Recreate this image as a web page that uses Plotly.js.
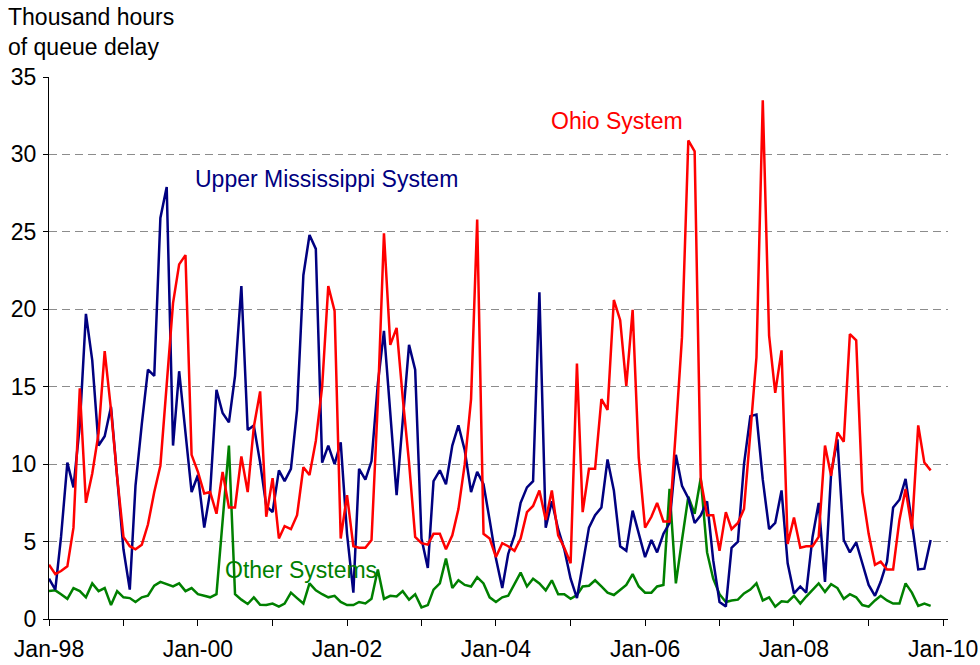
<!DOCTYPE html>
<html>
<head>
<meta charset="utf-8">
<script src="https://cdn.plot.ly/plotly-3.0.1.min.js"></script>
<style>
html,body{margin:0;padding:0;background:#fff;}
#chart{width:980px;height:665px;}
</style>
</head>
<body>
<div id="chart"></div>
<script>
// Monthly series, Jan-1998 .. Nov-2009 (thousand hours of queue delay)
const startYear = 1998;
const nMonths = 143;

const upperMississippi = [
  2.6, 1.9, 5.3, 10.1, 8.5, 12.5, 19.7, 16.7, 11.2, 11.8, 13.7, 9.0,
  4.5, 1.9, 8.6, 12.6, 16.1, 15.7, 25.9, 27.9, 11.2, 16.0, 12.0, 8.2,
  9.3, 5.9, 8.2, 14.8, 13.3, 12.7, 15.7, 21.5, 12.2, 12.5, 10.1, 7.3,
  6.9, 9.6, 8.9, 9.7, 13.5, 22.2, 24.8, 23.9, 10.1, 11.2, 10.0, 11.4,
  5.5, 1.7, 9.7, 9.0, 10.2, 15.2, 18.6, 13.0, 8.0, 12.8, 17.7, 16.1,
  5.2, 3.3, 8.9, 9.6, 8.7, 11.2, 12.5, 10.9, 8.2, 9.5, 8.7, 6.4,
  3.9, 2.0, 4.2, 5.4, 7.5, 8.5, 8.9, 21.1, 5.9, 7.6, 5.8, 4.5,
  2.6, 1.35, 3.4, 5.9, 6.7, 7.2, 10.3, 8.3, 4.7, 4.4, 7.0, 5.5,
  4.0, 5.1, 4.3, 5.5, 6.2, 10.6, 8.6, 7.8, 6.2, 6.7, 7.6, 3.8,
  1.1, 0.8, 4.6, 5.0, 10.0, 13.1, 13.2, 9.0, 5.8, 6.2, 8.3, 3.6,
  1.65, 2.1, 1.7, 5.3, 7.5, 2.4, 9.4, 11.6, 5.1, 4.3, 4.95, 3.6,
  2.2, 1.5, 2.4, 3.7, 7.2, 7.7, 9.05, 6.2, 3.2, 3.25, 5.1
];

const ohio = [
  3.5, 2.9, 3.1, 3.4, 5.9, 14.9, 7.5, 9.4, 12.0, 17.3, 13.5, 9.2,
  5.3, 4.7, 4.5, 4.8, 6.1, 8.2, 9.9, 15.2, 20.4, 22.9, 23.5, 10.6,
  9.5, 8.1, 8.2, 6.8, 9.5, 7.2, 7.2, 10.5, 8.2, 12.4, 14.7, 6.6,
  9.1, 5.2, 6.0, 5.8, 6.7, 9.8, 9.3, 11.5, 15.0, 21.5, 19.9, 5.2,
  8.0, 4.7, 4.6, 4.6, 5.1, 14.0, 24.9, 17.7, 18.8, 14.3, 10.1, 5.3,
  4.9, 4.8, 5.5, 5.5, 4.5, 5.4, 7.1, 10.0, 14.2, 25.8, 5.5, 5.2,
  4.0, 4.9, 4.7, 4.4, 5.2, 6.9, 7.3, 8.3, 6.4, 8.3, 5.4, 4.6,
  3.6, 16.5, 6.9, 9.7, 9.7, 14.2, 13.5, 20.6, 19.3, 15.05, 19.96, 10.4,
  5.9, 6.6, 7.5, 6.3, 6.3, 12.2, 18.2, 30.9, 30.2, 9.0, 6.7, 6.7,
  4.4, 6.9, 5.8, 6.2, 7.1, 12.0, 16.9, 33.5, 18.3, 14.6, 17.35, 4.85,
  6.55, 4.6, 4.7, 4.7, 5.3, 11.2, 9.25, 12.05, 11.45, 18.4, 18.0, 8.2,
  5.5, 3.5, 3.7, 3.2, 3.2, 6.4, 8.4, 5.8, 12.5, 10.1, 9.6
];

const otherSystems = [
  1.8, 1.85, 1.6, 1.3, 2.0, 1.8, 1.4, 2.3, 1.8, 2.0, 0.9, 1.8,
  1.4, 1.35, 1.1, 1.4, 1.5, 2.15, 2.4, 2.25, 2.1, 2.3, 1.8, 2.0,
  1.6, 1.5, 1.4, 1.6, 6.4, 11.2, 1.6, 1.25, 0.97, 1.4, 0.92, 0.9,
  1.0, 0.8, 1.0, 1.7, 1.35, 1.0, 2.3, 1.85, 1.6, 1.4, 1.5, 1.1,
  0.9, 0.9, 1.1, 1.0, 1.3, 3.2, 1.3, 1.5, 1.45, 1.8, 1.25, 1.6,
  0.75, 0.9, 1.9, 2.3, 3.9, 2.0, 2.5, 2.2, 2.1, 2.7, 2.3, 1.4,
  1.1, 1.4, 1.5, 2.3, 3.0, 2.1, 2.6, 2.3, 1.85, 2.5, 1.6, 1.6,
  1.3, 1.55, 2.1, 2.15, 2.5, 2.1, 1.7, 1.55, 1.85, 2.2, 2.9, 2.1,
  1.7, 1.7, 2.1, 2.2, 8.4, 2.3, 5.1, 7.9, 6.8, 9.1, 4.3, 2.6,
  1.6, 1.1, 1.2, 1.25, 1.65, 1.9, 2.3, 1.2, 1.4, 0.8, 1.15, 1.1,
  1.5, 1.0, 1.45, 1.9, 2.3, 1.75, 2.25, 2.0, 1.3, 1.6, 1.4, 0.9,
  0.8, 1.2, 1.5, 1.2, 1.0, 1.0, 2.3, 1.7, 0.85, 1.0, 0.85
];

const tickYears = [1998,1999,2000,2001,2002,2003,2004,2005,2006,2007,2008,2009,2010];
const tickLabels = ['Jan-98','','Jan-00','','Jan-02','','Jan-04','','Jan-06','','Jan-08','','Jan-10'];
const yTicks = [0,5,10,15,20,25,30,35];

// month dates (categories of the time axis)
const months = [];
for (let i = 0; i < nMonths; i++) {
  const y = startYear + Math.floor(i / 12);
  const m = (i % 12) + 1;
  months.push(y + '-' + (m < 10 ? '0' + m : m) + '-01');
}

const FONT = 'Arial, "Liberation Sans", sans-serif';
const FS = 23;
const W = 980, H = 665;
const M = {l: 49, r: 32, t: 77, b: 46};
function px2paperX(px){ return (px - M.l) / (W - M.l - M.r); }
function px2paperY(py){ return (H - M.b - py) / (H - M.t - M.b); }

const traces = [
  {x: months, y: otherSystems, type: 'scatter', mode: 'lines', name: 'Other Systems',
   line: {color: '#008000', width: 2.5}},
  {x: months, y: upperMississippi, type: 'scatter', mode: 'lines', name: 'Upper Mississippi System',
   line: {color: '#000080', width: 2.5}},
  {x: months, y: ohio, type: 'scatter', mode: 'lines', name: 'Ohio System',
   line: {color: '#FF0000', width: 2.5}}
];

const layout = {
  width: W, height: H,
  margin: M,
  paper_bgcolor: '#ffffff',
  plot_bgcolor: '#ffffff',
  showlegend: false,
  font: {family: FONT, size: FS, color: '#000'},
  xaxis: {
    type: 'date',
    range: ['1998-01-01', '2010-01-25'],
    tickmode: 'array',
    tickvals: tickYears.map(y => y + '-01-01'),
    ticktext: tickLabels,
    showgrid: false,
    zeroline: false,
    showline: true, linecolor: '#000', linewidth: 1,
    ticks: 'outside', ticklen: 6, tickcolor: '#000', tickwidth: 1,
    tickfont: {family: FONT, size: FS, color: '#000'},
    ticklabelstandoff: 3
  },
  yaxis: {
    range: [0, 35],
    tickmode: 'array',
    tickvals: yTicks,
    ticktext: yTicks.map(String),
    showgrid: true, gridcolor: '#8c8c8c', gridwidth: 1, griddash: '8px,5px',
    zeroline: false,
    showline: true, linecolor: '#000', linewidth: 1,
    ticks: 'outside', ticklen: 5, tickcolor: '#000', tickwidth: 1,
    tickfont: {family: FONT, size: FS, color: '#000'},
    ticklabelstandoff: 2
  },
  annotations: [
    {xref: 'paper', yref: 'paper', x: px2paperX(6), y: px2paperY(32), xanchor: 'left', yanchor: 'middle',
     align: 'left', showarrow: false, text: 'Thousand hours<br>of queue delay',
     font: {family: FONT, size: FS, color: '#000'}},
    {xref: 'paper', yref: 'paper', x: px2paperX(193), y: px2paperY(179), xanchor: 'left', yanchor: 'middle',
     showarrow: false, text: 'Upper Mississippi System', font: {family: FONT, size: FS, color: '#000080'}},
    {xref: 'paper', yref: 'paper', x: px2paperX(549), y: px2paperY(121), xanchor: 'left', yanchor: 'middle',
     showarrow: false, text: 'Ohio System', font: {family: FONT, size: FS, color: '#FF0000'}},
    {xref: 'paper', yref: 'paper', x: px2paperX(223), y: px2paperY(570), xanchor: 'left', yanchor: 'middle',
     showarrow: false, text: 'Other Systems', font: {family: FONT, size: FS, color: '#008000'}}
  ]
};

Plotly.newPlot('chart', traces, layout, {staticPlot: true, displayModeBar: false});
</script>
</body>
</html>
